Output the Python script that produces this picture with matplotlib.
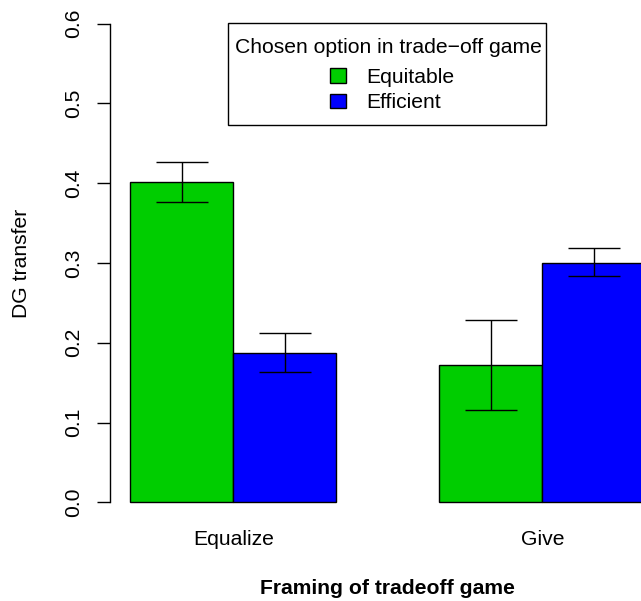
import numpy as np
from matplotlib import pyplot as plt
from matplotlib.patches import Patch, Rectangle

plt.rcParams['font.family'] = ['Liberation Sans', 'DejaVu Sans']
plt.rcParams['font.size'] = 15.2

framing = ["Equalize", "Give"]
options = ["Equitable", "Efficient"]
colors = ["#00CD00", "#0000FF"]

equitable_mean = [0.401, 0.172]
equitable_lo = [0.376, 0.116]
equitable_hi = [0.426, 0.228]

efficient_mean = [0.187, 0.300]
efficient_lo = [0.163, 0.283]
efficient_hi = [0.212, 0.319]

yticks = [0.0, 0.1, 0.2, 0.3, 0.4, 0.5, 0.6]

W, H = 641, 601
fig = plt.figure(figsize=(W / 100, H / 100), dpi=100)
ax = fig.add_axes([109.7 / W, 1 - 521.5 / H, 556.2 / W, 517.15 / H])

# R barplot(beside=TRUE) layout: bars of width 1, one bar gap between groups
group_start = np.arange(len(framing)) * 3 + 1
series = [(equitable_mean, equitable_lo, equitable_hi),
          (efficient_mean, efficient_lo, efficient_hi)]
for k, (mean, lo, hi) in enumerate(series):
    left = group_start + k
    mean = np.array(mean)
    ax.bar(left, mean, width=1, align='edge', color=colors[k],
           edgecolor='black', linewidth=1, zorder=2)
    err = [mean - np.array(lo), np.array(hi) - mean]
    ax.errorbar(left + 0.5, mean, yerr=err, fmt='none', ecolor='black',
                elinewidth=1, capsize=18.5, capthick=1, zorder=3)

ax.set_xlim(0.8, 6.2)
ax.set_ylim(-0.024, 0.624)

for side in ['top', 'right', 'bottom']:
    ax.spines[side].set_visible(False)
ax.spines['left'].set_bounds(0, 0.6)
ax.spines['left'].set_linewidth(1)

ax.set_yticks(yticks, [f"{t:.1f}" for t in yticks])
ax.tick_params(axis='y', length=9.6, width=1, pad=9.6)
plt.setp(ax.get_yticklabels(), rotation=90, va='center')

ax.set_xticks(group_start + 1, framing)
ax.tick_params(axis='x', length=0, pad=6.2)

fig.text(22 / W, 1 - 263 / H, "DG transfer", rotation=90,
         ha='center', va='center')
fig.text(387.8 / W, 1 - 594 / H, "Framing of tradeoff game",
         ha='center', va='baseline', fontweight='bold')

# legend box drawn like R's legend() frame, title and entries placed separately
ax.add_patch(Rectangle((228.3 / W, 1 - 125 / H), 317.4 / W, 101.7 / H,
                       transform=fig.transFigure, facecolor='white',
                       edgecolor='black', linewidth=1, zorder=4,
                       clip_on=False))
ax.text(388 / W, 1 - 47.2 / H, "Chosen option in trade\u2212off game",
        transform=fig.transFigure, ha='center', va='center', zorder=5)
handles = [Patch(facecolor=c, edgecolor='black', linewidth=1) for c in colors]
leg = ax.legend(handles, options,
                loc='upper center', bbox_to_anchor=(392 / W, 1 - 68 / H),
                bbox_transform=fig.transFigure, borderaxespad=0,
                frameon=False, handlelength=0.74, handleheight=0.66,
                handletextpad=0.95, labelspacing=0.29, borderpad=0)
leg.set_zorder(5)

fig.savefig("out.png", dpi=100)
